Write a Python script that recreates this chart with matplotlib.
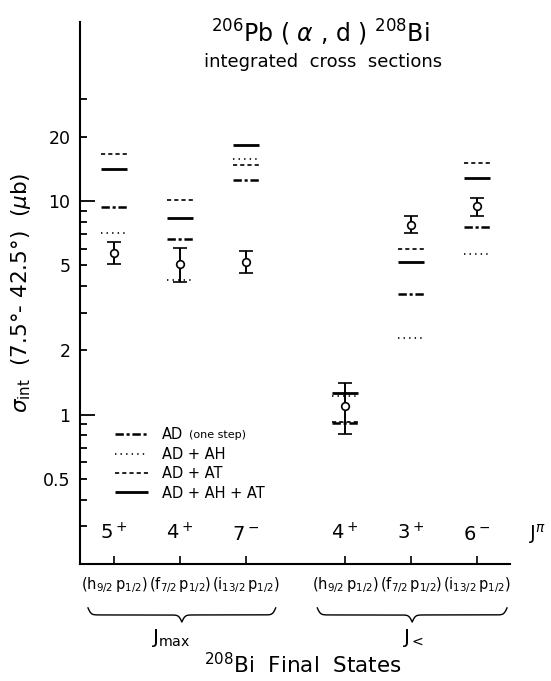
import numpy as np
import matplotlib
matplotlib.use('Agg')
import matplotlib.pyplot as plt
from matplotlib.ticker import FixedLocator, FixedFormatter

plt.rcParams['font.family'] = 'DejaVu Sans'
plt.rcParams['mathtext.fontset'] = 'dejavusans'
plt.rcParams['lines.scale_dashes'] = False

# 208Bi final states
x_pos = [1, 2, 3, 4.5, 5.5, 6.5]
spin_labels = ['5$^+$', '4$^+$', '7$^-$', '4$^+$', '3$^+$', '6$^-$']
configs = [r'$(\mathrm{h}_{9/2}\,\mathrm{p}_{1/2})$',
           r'$(\mathrm{f}_{7/2}\,\mathrm{p}_{1/2})$',
           r'$(\mathrm{i}_{13/2}\,\mathrm{p}_{1/2})$',
           r'$(\mathrm{h}_{9/2}\,\mathrm{p}_{1/2})$',
           r'$(\mathrm{f}_{7/2}\,\mathrm{p}_{1/2})$',
           r'$(\mathrm{i}_{13/2}\,\mathrm{p}_{1/2})$']

# calculated integrated cross sections (ub)
sig_ad = [9.35, 6.67, 12.5, 0.91, 3.68, 7.58]
sig_ad_ah = [7.11, 4.27, 15.7, 1.22, 2.28, 5.65]
sig_ad_at = [16.6, 10.1, 14.8, 0.92, 5.97, 15.05]
sig_full = [14.1, 8.33, 18.4, 1.27, 5.17, 12.9]

# measured values with error limits
sig_exp = [5.71, 5.06, 5.17, 1.10, 7.73, 9.45]
exp_upper = [6.45, 6.05, 5.82, 1.41, 8.54, 10.4]
exp_lower = [5.08, 4.20, 4.59, 0.81, 7.09, 8.54]

fig = plt.figure(figsize=(5.51, 6.81), dpi=100)
ax = fig.add_axes([80/551, 1-564/681, 430/551, 542/681])

hw = 0.2
xs = np.array(x_pos)
ax.hlines(sig_ad, xs-hw, xs+hw, colors='k', lw=1.8,
          linestyles=[(0, (6, 2, 2.2, 2))], label='AD')
ax.hlines(sig_ad_ah, xs-hw, xs+hw, colors='k', lw=1.2,
          linestyles=[(0, (1, 3))], label='AD + AH')
ax.hlines(sig_ad_at, xs-hw, xs+hw, colors='k', lw=1.2,
          linestyles=[(0, (3, 2.2))], label='AD + AT')
ax.hlines(sig_full, xs-hw, xs+hw, colors='k', lw=2.0,
          linestyles='solid', label='AD + AH + AT')

yerr = [np.array(sig_exp) - np.array(exp_lower),
        np.array(exp_upper) - np.array(sig_exp)]
ax.errorbar(x_pos, sig_exp, yerr=yerr, fmt='o', color='k', mfc='white',
            mec='k', ms=5.5, mew=1.2, elinewidth=1.4, capsize=5, capthick=1.4)

ax.set_yscale('log')
ax.set_ylim(0.2, 69)
ax.set_xlim(0.485, 7.0)

for s in ['top', 'right']:
    ax.spines[s].set_visible(False)
ax.spines['left'].set_linewidth(1.5)
ax.spines['bottom'].set_linewidth(1.5)

ax.yaxis.set_major_locator(FixedLocator([1, 10]))
ax.yaxis.set_major_formatter(FixedFormatter(['1', '10']))
ax.yaxis.set_minor_locator(FixedLocator([0.3, 0.4, 0.5, 0.6, 0.7, 0.8, 0.9,
                                         2, 3, 4, 5, 6, 7, 8, 9, 20, 30]))
ax.yaxis.set_minor_formatter(FixedFormatter(['', '', '0.5', '', '', '', '',
                                             '2', '', '', '5', '', '', '', '',
                                             '20', '']))
ax.tick_params(axis='y', which='major', direction='in', length=11, width=1.3,
               labelsize=12.5, pad=7)
ax.tick_params(axis='y', which='minor', direction='in', length=5, width=1.3,
               labelsize=12.5, pad=7)

ax.set_xticks(x_pos)
ax.set_xticklabels(configs)
ax.tick_params(axis='x', direction='in', length=6, width=1.2, labelsize=10.5,
               pad=8)

ax.set_ylabel(r'$\sigma_{\mathrm{int}}$  (7.5°- 42.5°)  ($\mu$b)', fontsize=15.5)
ax.yaxis.set_label_coords(-0.11, 0.5)

# J-pi labels above the axis line
for xp, lab in zip(x_pos, spin_labels):
    ax.text(xp, 0.045, lab, transform=ax.get_xaxis_transform(),
            ha='center', va='baseline', fontsize=14)
ax.text(7.42, 0.045, r'J$^{\pi}$', transform=ax.get_xaxis_transform(),
        ha='center', va='baseline', fontsize=14, clip_on=False)


def brace(x0, x1, y_top, depth, beta=60):
    # curly brace opening upward, tip pointing down
    u = np.linspace(0, 1, 200)
    yh = 1/(1+np.exp(-beta*u)) + 1/(1+np.exp(-beta*(u-1))) - 0.5
    half = (x1 - x0) / 2
    xl = x0 + u*half
    xr = x1 - u[::-1]*half
    yb = np.concatenate([yh, yh[::-1]])
    xb = np.concatenate([xl, xr])
    ax.plot(xb, y_top - depth*yb, color='k', lw=1.0,
            transform=ax.get_xaxis_transform(), clip_on=False)


brace(0.606, 3.45, -0.081, 0.026)
brace(4.08, 6.955, -0.081, 0.026)
ax.text(1.86, -0.137, r'J$_{\mathrm{max}}$', transform=ax.get_xaxis_transform(),
        ha='center', va='center', fontsize=14.5)
ax.text(5.53, -0.137, r'J$_{<}$', transform=ax.get_xaxis_transform(),
        ha='center', va='center', fontsize=14.5)

leg = ax.legend(loc='upper left', bbox_to_anchor=(0.081, 0.252), frameon=False,
                fontsize=10.5, handlelength=2.3, handletextpad=0.95,
                borderpad=0, borderaxespad=0, labelspacing=0.3)
ax.annotate('(one step)', xy=(1, 0), xycoords=leg.get_texts()[0],
            xytext=(4, 1.5), textcoords='offset points', fontsize=8,
            va='bottom', ha='left', zorder=10)

fig.text(0.581, 0.951, r'$^{206}$Pb ( $\alpha$ , d ) $^{208}$Bi', ha='center',
         va='center', fontsize=17)
fig.text(0.586, 0.909, 'integrated  cross  sections', ha='center',
         va='center', fontsize=13)
fig.text(0.55, 0.0235, r'$^{208}$Bi  Final  States', ha='center', va='center',
         fontsize=15.5)

fig.savefig('out.png', dpi=100)
